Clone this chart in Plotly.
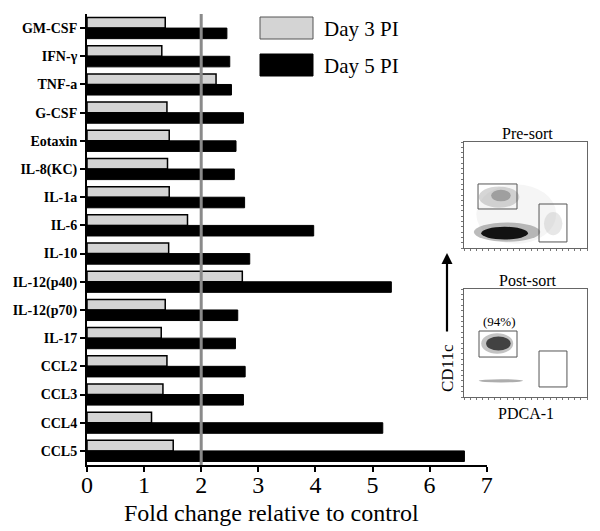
import plotly.graph_objects as go

categories = ["GM-CSF", "IFN-γ", "TNF-a", "G-CSF", "Eotaxin", "IL-8(KC)", "IL-1a", "IL-6",
              "IL-10", "IL-12(p40)", "IL-12(p70)", "IL-17", "CCL2", "CCL3", "CCL4", "CCL5"]
day3 = [1.37, 1.31, 2.26, 1.40, 1.44, 1.41, 1.44, 1.76, 1.43, 2.72, 1.37, 1.30, 1.40, 1.33, 1.13, 1.51]
day5 = [2.45, 2.50, 2.53, 2.74, 2.61, 2.58, 2.76, 3.97, 2.85, 5.33, 2.64, 2.60, 2.77, 2.74, 5.18, 6.61]
x_ticks = [0, 1, 2, 3, 4, 5, 6, 7]
threshold = 2
series_names = ["Day 3 PI", "Day 5 PI"]
x_title = "Fold change relative to control"

FONT = "Liberation Serif"

# The page body adds an 8px offset, so the figure is drawn 8px smaller.
OFF = 8
W, H = 600 - OFF, 531 - OFF
L, R, T, B = 87 - OFF, 10, 14 - OFF, 66
PW = W - L - R
PH = H - T - B

def px(x):  # reference-pixel x -> paper
    return (x - OFF - L) / PW

def py(y):  # reference-pixel y -> paper
    return (H - B - (y - OFF)) / PH

def note(x, y, text, size, **kw):
    d = dict(xref="paper", yref="paper", x=px(x), y=py(y), text=text, showarrow=False,
             xanchor="center", yanchor="middle", font=dict(family=FONT, size=size, color="black"))
    d.update(kw)
    return d

fig = go.Figure()
fig.add_trace(go.Bar(y=categories, x=day3, orientation="h", name=series_names[0],
                     marker=dict(color="#d4d4d4", line=dict(color="black", width=1.5))))
fig.add_trace(go.Bar(y=categories, x=day5, orientation="h", name=series_names[1],
                     marker=dict(color="black", line=dict(color="black", width=1))))

shapes = []
annotations = []

# threshold line
shapes.append(dict(type="line", xref="x", yref="paper", x0=threshold, x1=threshold, y0=0, y1=1,
                   line=dict(color="#8a8a8a", width=3), layer="above"))

# legend (manual)
shapes.append(dict(type="rect", xref="paper", yref="paper", x0=px(260), x1=px(313), y0=py(39), y1=py(17),
                   fillcolor="#d4d4d4", line=dict(color="#555", width=1)))
shapes.append(dict(type="rect", xref="paper", yref="paper", x0=px(260), x1=px(313), y0=py(76), y1=py(54),
                   fillcolor="black", line=dict(color="black", width=1)))
annotations.append(note(322, 29, series_names[0], 21, xanchor="left"))
annotations.append(note(322, 66, series_names[1], 21, xanchor="left"))

# x-axis title
annotations.append(note(271, 513, x_title, 24))

# inset axes (flow plots)
inset_x = [px(464), px(587)]
pre_y = [py(248), py(142)]
post_y = [py(397), py(289)]

inset_ax = dict(range=[0, 100], showgrid=False, zeroline=False, showticklabels=False,
                showline=True, mirror=True, linecolor="#666", linewidth=1, automargin=False,
                ticks="outside", ticklen=2, tickcolor="#777", dtick=5, fixedrange=True)

def ell(xa, ya, x0, x1, y0, y1, color, op):
    return dict(type="circle", xref=xa, yref=ya, x0=x0, x1=x1, y0=y0, y1=y1,
                fillcolor=color, opacity=op, line=dict(width=0), layer="below")

shapes += [
    ell("x2", "y2", 10, 75, 4, 60, "#dddddd", 0.3),
    ell("x2", "y2", 12, 45, 38, 58, "#999999", 0.4),
    ell("x2", "y2", 22, 38, 44, 55, "#555555", 0.4),
    ell("x2", "y2", 8, 62, 6, 24, "#777777", 0.5),
    ell("x2", "y2", 14, 52, 8, 20, "#000000", 0.9),
    ell("x2", "y2", 65, 80, 12, 34, "#bbbbbb", 0.35),
    dict(type="rect", xref="x2", yref="y2", x0=11.4, x1=43.1, y0=36.8, y1=60.4, line=dict(color="#555", width=1)),
    dict(type="rect", xref="x2", yref="y2", x0=61, x1=83.7, y0=5.7, y1=41.5, line=dict(color="#555", width=1)),
    ell("x3", "y3", 14, 40, 40, 59, "#888888", 0.5),
    ell("x3", "y3", 18, 38, 43, 56, "#222222", 0.8),
    ell("x3", "y3", 12, 48, 13.5, 16.5, "#777777", 0.6),
    dict(type="rect", xref="x3", yref="y3", x0=12.2, x1=43.1, y0=37, y1=61.1, line=dict(color="#555", width=1)),
    dict(type="rect", xref="x3", yref="y3", x0=61, x1=83.7, y0=9.3, y1=42.6, line=dict(color="#555", width=1)),
]

annotations += [
    note(527, 133, "Pre-sort", 16),
    note(527, 280, "Post-sort", 16),
    note(499, 321, "(94%)", 13),
    note(526, 413, "PDCA-1", 16),
    note(447, 368, "CD11c", 17, textangle=-90),
    dict(xref="paper", yref="paper", x=px(447), y=py(253), ax=0, ay=80, axref="pixel", ayref="pixel",
         text="", showarrow=True, arrowhead=2, arrowsize=1, arrowwidth=2.2, arrowcolor="black"),
]

fig.update_layout(
    width=W, height=H,
    margin=dict(l=L, r=R, t=T, b=B, pad=0),
    paper_bgcolor="white", plot_bgcolor="white",
    barmode="group", bargap=0.25, bargroupgap=0,
    showlegend=False,
    font=dict(family=FONT, color="black"),
    xaxis=dict(domain=[0, px(486.7)], range=[0, 7], tickvals=x_ticks, showgrid=False, zeroline=False,
               automargin=False, ticklabelstandoff=-8,
               showline=True, linecolor="black", linewidth=2, ticks="outside", ticklen=5, tickwidth=2,
               tickcolor="black", tickfont=dict(family=FONT, size=24, color="black")),
    yaxis=dict(range=[15.5, -0.5], type="category", showgrid=False, zeroline=False, showline=True,
               automargin=False,
               linecolor="black", linewidth=2, ticks="outside", ticklen=5, tickwidth=2, tickcolor="black",
               tickfont=dict(family=FONT, size=14, color="black", weight="bold")),
    xaxis2=dict(domain=inset_x, anchor="y2", **inset_ax),
    yaxis2=dict(domain=pre_y, anchor="x2", **inset_ax),
    xaxis3=dict(domain=inset_x, anchor="y3", **inset_ax),
    yaxis3=dict(domain=post_y, anchor="x3", **inset_ax),
    shapes=shapes,
    annotations=annotations,
)

fig.add_trace(go.Scatter(x=[], y=[], xaxis="x2", yaxis="y2", showlegend=False))
fig.add_trace(go.Scatter(x=[], y=[], xaxis="x3", yaxis="y3", showlegend=False))

fig.write_html("out.html")
